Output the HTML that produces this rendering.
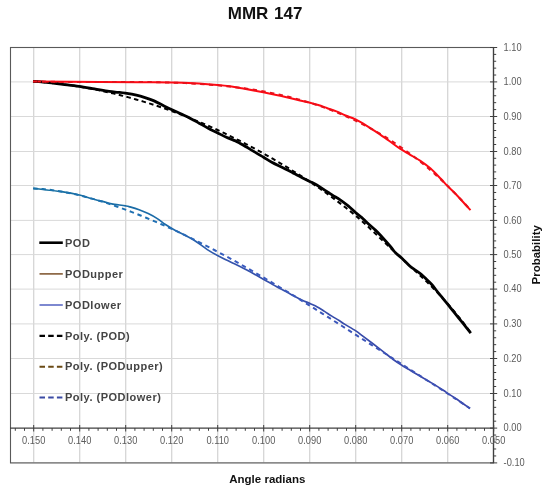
<!DOCTYPE html>
<html><head><meta charset="utf-8">
<style>
html,body{margin:0;padding:0;background:#fff;}
body{width:550px;height:490px;overflow:hidden;position:relative;font-family:"Liberation Sans",sans-serif;}
svg{position:absolute;left:0;top:0;will-change:transform;}
</style></head><body>
<svg width="550" height="490" viewBox="0 0 550 490" font-family="Liberation Sans, sans-serif">
<defs>
<linearGradient id="gb" gradientUnits="userSpaceOnUse" x1="33" y1="0" x2="470" y2="0">
<stop offset="0" stop-color="#15709f"/><stop offset="0.3" stop-color="#1b6aa8"/><stop offset="0.45" stop-color="#3553ac"/><stop offset="1" stop-color="#3a44a8"/>
</linearGradient>
<linearGradient id="gbd" gradientUnits="userSpaceOnUse" x1="33" y1="0" x2="470" y2="0">
<stop offset="0" stop-color="#1a72aa"/><stop offset="0.3" stop-color="#1f6fb4"/><stop offset="0.45" stop-color="#3a5cc0"/><stop offset="1" stop-color="#3d50b4"/>
</linearGradient>
</defs>
<g stroke="#d9d9d9" stroke-width="1">
<line x1="33.70" y1="47" x2="33.70" y2="462.6" stroke-width="1.3" stroke="#d6d6d6"/><line x1="79.70" y1="47" x2="79.70" y2="462.6" stroke-width="1.3" stroke="#d6d6d6"/><line x1="125.70" y1="47" x2="125.70" y2="462.6" stroke-width="1.3" stroke="#d6d6d6"/><line x1="171.70" y1="47" x2="171.70" y2="462.6" stroke-width="1.3" stroke="#d6d6d6"/><line x1="217.70" y1="47" x2="217.70" y2="462.6" stroke-width="1.3" stroke="#d6d6d6"/><line x1="263.70" y1="47" x2="263.70" y2="462.6" stroke-width="1.3" stroke="#d6d6d6"/><line x1="309.70" y1="47" x2="309.70" y2="462.6" stroke-width="1.3" stroke="#d6d6d6"/><line x1="355.70" y1="47" x2="355.70" y2="462.6" stroke-width="1.3" stroke="#d6d6d6"/><line x1="401.70" y1="47" x2="401.70" y2="462.6" stroke-width="1.3" stroke="#d6d6d6"/><line x1="447.70" y1="47" x2="447.70" y2="462.6" stroke-width="1.3" stroke="#d6d6d6"/><line x1="10" y1="462.90" x2="494" y2="462.90"/><line x1="10" y1="393.50" x2="494" y2="393.50"/><line x1="10" y1="358.50" x2="494" y2="358.50"/><line x1="10" y1="323.90" x2="494" y2="323.90"/><line x1="10" y1="289.10" x2="494" y2="289.10"/><line x1="10" y1="254.60" x2="494" y2="254.60"/><line x1="10" y1="220.40" x2="494" y2="220.40"/><line x1="10" y1="185.50" x2="494" y2="185.50"/><line x1="10" y1="151.50" x2="494" y2="151.50"/><line x1="10" y1="116.50" x2="494" y2="116.50"/><line x1="10" y1="81.90" x2="494" y2="81.90"/>
</g>
<rect x="10.5" y="47.5" width="483" height="415.4" fill="none" stroke="#595959" stroke-width="1.1"/>
<g stroke="#404040" stroke-width="1">
<line x1="10" y1="428.1" x2="494" y2="428.1" stroke-width="1.3"/>
<line x1="493.5" y1="47" x2="493.5" y2="463" stroke-width="1.3"/>
<line x1="33.70" y1="425" x2="33.70" y2="431.5"/><line x1="79.70" y1="425" x2="79.70" y2="431.5"/><line x1="125.70" y1="425" x2="125.70" y2="431.5"/><line x1="171.70" y1="425" x2="171.70" y2="431.5"/><line x1="217.70" y1="425" x2="217.70" y2="431.5"/><line x1="263.70" y1="425" x2="263.70" y2="431.5"/><line x1="309.70" y1="425" x2="309.70" y2="431.5"/><line x1="355.70" y1="425" x2="355.70" y2="431.5"/><line x1="401.70" y1="425" x2="401.70" y2="431.5"/><line x1="447.70" y1="425" x2="447.70" y2="431.5"/><line x1="493.70" y1="425" x2="493.70" y2="431.5"/><line x1="15.30" y1="428" x2="15.30" y2="430.8"/><line x1="24.50" y1="428" x2="24.50" y2="430.8"/><line x1="42.90" y1="428" x2="42.90" y2="430.8"/><line x1="52.10" y1="428" x2="52.10" y2="430.8"/><line x1="61.30" y1="428" x2="61.30" y2="430.8"/><line x1="70.50" y1="428" x2="70.50" y2="430.8"/><line x1="88.90" y1="428" x2="88.90" y2="430.8"/><line x1="98.10" y1="428" x2="98.10" y2="430.8"/><line x1="107.30" y1="428" x2="107.30" y2="430.8"/><line x1="116.50" y1="428" x2="116.50" y2="430.8"/><line x1="134.90" y1="428" x2="134.90" y2="430.8"/><line x1="144.10" y1="428" x2="144.10" y2="430.8"/><line x1="153.30" y1="428" x2="153.30" y2="430.8"/><line x1="162.50" y1="428" x2="162.50" y2="430.8"/><line x1="180.90" y1="428" x2="180.90" y2="430.8"/><line x1="190.10" y1="428" x2="190.10" y2="430.8"/><line x1="199.30" y1="428" x2="199.30" y2="430.8"/><line x1="208.50" y1="428" x2="208.50" y2="430.8"/><line x1="226.90" y1="428" x2="226.90" y2="430.8"/><line x1="236.10" y1="428" x2="236.10" y2="430.8"/><line x1="245.30" y1="428" x2="245.30" y2="430.8"/><line x1="254.50" y1="428" x2="254.50" y2="430.8"/><line x1="272.90" y1="428" x2="272.90" y2="430.8"/><line x1="282.10" y1="428" x2="282.10" y2="430.8"/><line x1="291.30" y1="428" x2="291.30" y2="430.8"/><line x1="300.50" y1="428" x2="300.50" y2="430.8"/><line x1="318.90" y1="428" x2="318.90" y2="430.8"/><line x1="328.10" y1="428" x2="328.10" y2="430.8"/><line x1="337.30" y1="428" x2="337.30" y2="430.8"/><line x1="346.50" y1="428" x2="346.50" y2="430.8"/><line x1="364.90" y1="428" x2="364.90" y2="430.8"/><line x1="374.10" y1="428" x2="374.10" y2="430.8"/><line x1="383.30" y1="428" x2="383.30" y2="430.8"/><line x1="392.50" y1="428" x2="392.50" y2="430.8"/><line x1="410.90" y1="428" x2="410.90" y2="430.8"/><line x1="420.10" y1="428" x2="420.10" y2="430.8"/><line x1="429.30" y1="428" x2="429.30" y2="430.8"/><line x1="438.50" y1="428" x2="438.50" y2="430.8"/><line x1="456.90" y1="428" x2="456.90" y2="430.8"/><line x1="466.10" y1="428" x2="466.10" y2="430.8"/><line x1="475.30" y1="428" x2="475.30" y2="430.8"/><line x1="484.50" y1="428" x2="484.50" y2="430.8"/><line x1="490" y1="462.90" x2="497.2" y2="462.90"/><line x1="490" y1="428.10" x2="497.2" y2="428.10"/><line x1="490" y1="393.50" x2="497.2" y2="393.50"/><line x1="490" y1="358.50" x2="497.2" y2="358.50"/><line x1="490" y1="323.90" x2="497.2" y2="323.90"/><line x1="490" y1="289.10" x2="497.2" y2="289.10"/><line x1="490" y1="254.60" x2="497.2" y2="254.60"/><line x1="490" y1="220.40" x2="497.2" y2="220.40"/><line x1="490" y1="185.50" x2="497.2" y2="185.50"/><line x1="490" y1="151.50" x2="497.2" y2="151.50"/><line x1="490" y1="116.50" x2="497.2" y2="116.50"/><line x1="490" y1="81.90" x2="497.2" y2="81.90"/><line x1="490" y1="47.50" x2="497.2" y2="47.50"/><line x1="493.5" y1="455.94" x2="496.2" y2="455.94"/><line x1="493.5" y1="448.98" x2="496.2" y2="448.98"/><line x1="493.5" y1="442.02" x2="496.2" y2="442.02"/><line x1="493.5" y1="435.06" x2="496.2" y2="435.06"/><line x1="493.5" y1="421.18" x2="496.2" y2="421.18"/><line x1="493.5" y1="414.26" x2="496.2" y2="414.26"/><line x1="493.5" y1="407.34" x2="496.2" y2="407.34"/><line x1="493.5" y1="400.42" x2="496.2" y2="400.42"/><line x1="493.5" y1="386.50" x2="496.2" y2="386.50"/><line x1="493.5" y1="379.50" x2="496.2" y2="379.50"/><line x1="493.5" y1="372.50" x2="496.2" y2="372.50"/><line x1="493.5" y1="365.50" x2="496.2" y2="365.50"/><line x1="493.5" y1="351.58" x2="496.2" y2="351.58"/><line x1="493.5" y1="344.66" x2="496.2" y2="344.66"/><line x1="493.5" y1="337.74" x2="496.2" y2="337.74"/><line x1="493.5" y1="330.82" x2="496.2" y2="330.82"/><line x1="493.5" y1="316.94" x2="496.2" y2="316.94"/><line x1="493.5" y1="309.98" x2="496.2" y2="309.98"/><line x1="493.5" y1="303.02" x2="496.2" y2="303.02"/><line x1="493.5" y1="296.06" x2="496.2" y2="296.06"/><line x1="493.5" y1="282.20" x2="496.2" y2="282.20"/><line x1="493.5" y1="275.30" x2="496.2" y2="275.30"/><line x1="493.5" y1="268.40" x2="496.2" y2="268.40"/><line x1="493.5" y1="261.50" x2="496.2" y2="261.50"/><line x1="493.5" y1="247.76" x2="496.2" y2="247.76"/><line x1="493.5" y1="240.92" x2="496.2" y2="240.92"/><line x1="493.5" y1="234.08" x2="496.2" y2="234.08"/><line x1="493.5" y1="227.24" x2="496.2" y2="227.24"/><line x1="493.5" y1="213.42" x2="496.2" y2="213.42"/><line x1="493.5" y1="206.44" x2="496.2" y2="206.44"/><line x1="493.5" y1="199.46" x2="496.2" y2="199.46"/><line x1="493.5" y1="192.48" x2="496.2" y2="192.48"/><line x1="493.5" y1="178.70" x2="496.2" y2="178.70"/><line x1="493.5" y1="171.90" x2="496.2" y2="171.90"/><line x1="493.5" y1="165.10" x2="496.2" y2="165.10"/><line x1="493.5" y1="158.30" x2="496.2" y2="158.30"/><line x1="493.5" y1="144.50" x2="496.2" y2="144.50"/><line x1="493.5" y1="137.50" x2="496.2" y2="137.50"/><line x1="493.5" y1="130.50" x2="496.2" y2="130.50"/><line x1="493.5" y1="123.50" x2="496.2" y2="123.50"/><line x1="493.5" y1="109.58" x2="496.2" y2="109.58"/><line x1="493.5" y1="102.66" x2="496.2" y2="102.66"/><line x1="493.5" y1="95.74" x2="496.2" y2="95.74"/><line x1="493.5" y1="88.82" x2="496.2" y2="88.82"/><line x1="493.5" y1="75.02" x2="496.2" y2="75.02"/><line x1="493.5" y1="68.14" x2="496.2" y2="68.14"/><line x1="493.5" y1="61.26" x2="496.2" y2="61.26"/><line x1="493.5" y1="54.38" x2="496.2" y2="54.38"/>
</g>
<g font-size="10px" fill="#5c5c5c">
<text transform="translate(33.70,444) scale(0.93,1)" text-anchor="middle">0.150</text><text transform="translate(79.70,444) scale(0.93,1)" text-anchor="middle">0.140</text><text transform="translate(125.70,444) scale(0.93,1)" text-anchor="middle">0.130</text><text transform="translate(171.70,444) scale(0.93,1)" text-anchor="middle">0.120</text><text transform="translate(217.70,444) scale(0.93,1)" text-anchor="middle">0.110</text><text transform="translate(263.70,444) scale(0.93,1)" text-anchor="middle">0.100</text><text transform="translate(309.70,444) scale(0.93,1)" text-anchor="middle">0.090</text><text transform="translate(355.70,444) scale(0.93,1)" text-anchor="middle">0.080</text><text transform="translate(401.70,444) scale(0.93,1)" text-anchor="middle">0.070</text><text transform="translate(447.70,444) scale(0.93,1)" text-anchor="middle">0.060</text><text transform="translate(493.70,444) scale(0.93,1)" text-anchor="middle">0.050</text>
<text transform="translate(503.6,466.05) scale(0.93,1)">-0.10</text><text transform="translate(503.6,431.25) scale(0.93,1)">0.00</text><text transform="translate(503.6,396.65) scale(0.93,1)">0.10</text><text transform="translate(503.6,361.65) scale(0.93,1)">0.20</text><text transform="translate(503.6,327.05) scale(0.93,1)">0.30</text><text transform="translate(503.6,292.25) scale(0.93,1)">0.40</text><text transform="translate(503.6,257.75) scale(0.93,1)">0.50</text><text transform="translate(503.6,223.55) scale(0.93,1)">0.60</text><text transform="translate(503.6,188.65) scale(0.93,1)">0.70</text><text transform="translate(503.6,154.65) scale(0.93,1)">0.80</text><text transform="translate(503.6,119.65) scale(0.93,1)">0.90</text><text transform="translate(503.6,85.05) scale(0.93,1)">1.00</text><text transform="translate(503.6,50.65) scale(0.93,1)">1.10</text>
</g>
<text x="265.1" y="18.9" font-size="17px" font-weight="bold" fill="#111" text-anchor="middle" word-spacing="1px">MMR 147</text>
<text x="267.3" y="483.4" font-size="11.5px" font-weight="bold" fill="#111" text-anchor="middle">Angle radians</text>
<text transform="translate(539.7,254.8) rotate(-90)" font-size="11.5px" font-weight="bold" fill="#111" text-anchor="middle">Probability</text>
<!-- curves -->
<path d="M33.00,81.30 C35.23,81.48 41.45,81.90 46.40,82.40 C51.35,82.90 57.27,83.65 62.70,84.30 C68.13,84.95 73.70,85.53 79.00,86.30 C84.30,87.07 89.48,88.05 94.50,88.90 C99.52,89.75 105.15,90.83 109.10,91.40 C113.05,91.97 115.50,92.00 118.20,92.30 C120.90,92.60 122.27,92.72 125.30,93.20 C128.33,93.68 133.12,94.47 136.40,95.20 C139.68,95.93 142.05,96.65 145.00,97.60 C147.95,98.55 151.07,99.58 154.10,100.90 C157.13,102.22 160.32,104.07 163.20,105.50 C166.08,106.93 168.37,108.07 171.40,109.50 C174.43,110.93 178.22,112.62 181.40,114.10 C184.58,115.58 187.55,116.88 190.50,118.40 C193.45,119.92 196.15,121.57 199.10,123.20 C202.05,124.83 205.17,126.62 208.20,128.20 C211.23,129.78 214.27,131.18 217.30,132.70 C220.33,134.22 223.37,135.93 226.40,137.30 C229.43,138.67 233.23,139.88 235.50,140.90 C237.77,141.92 237.73,142.12 240.00,143.40 C242.27,144.68 246.07,146.82 249.10,148.60 C252.13,150.38 255.78,152.65 258.20,154.10 C260.62,155.55 261.33,155.93 263.60,157.30 C265.87,158.67 268.92,160.72 271.80,162.30 C274.68,163.88 277.87,165.32 280.90,166.80 C283.93,168.28 287.80,170.07 290.00,171.20 C292.20,172.33 291.90,172.43 294.10,173.60 C296.30,174.77 300.60,176.90 303.20,178.20 C305.80,179.50 307.43,180.27 309.70,181.40 C311.97,182.53 314.10,183.42 316.80,185.00 C319.50,186.58 323.70,189.47 325.90,190.90 C328.10,192.33 328.48,192.62 330.00,193.60 C331.52,194.58 333.48,195.88 335.00,196.80 C336.52,197.72 336.90,197.58 339.10,199.10 C341.30,200.62 345.47,203.67 348.20,205.90 C350.93,208.13 353.23,210.55 355.50,212.50 C357.77,214.45 359.85,215.88 361.80,217.60 C363.75,219.32 365.08,220.85 367.20,222.80 C369.32,224.75 372.33,227.27 374.50,229.30 C376.67,231.33 377.55,232.13 380.20,235.00 C382.85,237.87 387.85,243.55 390.40,246.50 C392.95,249.45 393.58,250.73 395.50,252.70 C397.42,254.67 399.48,256.05 401.90,258.30 C404.32,260.55 407.70,264.20 410.00,266.20 C412.30,268.20 413.83,268.97 415.70,270.30 C417.57,271.63 419.27,272.57 421.20,274.20 C423.13,275.83 425.47,278.30 427.30,280.10 C429.13,281.90 430.67,283.27 432.20,285.00 C433.73,286.73 435.10,288.73 436.50,290.50 C437.90,292.27 438.75,293.33 440.60,295.60 C442.45,297.87 445.40,301.38 447.60,304.10 C449.80,306.82 451.25,308.72 453.80,311.90 C456.35,315.08 460.07,319.65 462.90,323.20 C465.73,326.75 469.48,331.53 470.80,333.20" fill="none" stroke="#000" stroke-width="2.8" stroke-linejoin="round"/>
<path d="M33.00,81.50 C44.17,81.57 82.17,81.78 100.00,81.90 C117.83,82.02 131.67,82.15 140.00,82.20 C148.33,82.25 144.70,82.17 150.00,82.20 C155.30,82.23 164.53,82.23 171.80,82.40 C179.07,82.57 185.97,82.78 193.60,83.20 C201.23,83.62 211.53,84.40 217.60,84.90 C223.67,85.40 225.97,85.65 230.00,86.20 C234.03,86.75 236.25,87.18 241.80,88.20 C247.35,89.22 256.02,90.85 263.30,92.30 C270.58,93.75 279.38,95.53 285.50,96.90 C291.62,98.27 295.92,99.53 300.00,100.50 C304.08,101.47 306.97,101.95 310.00,102.70 C313.03,103.45 315.32,104.08 318.20,105.00 C321.08,105.92 324.27,107.13 327.30,108.20 C330.33,109.27 333.37,110.18 336.40,111.40 C339.43,112.62 342.30,114.18 345.50,115.50 C348.70,116.82 352.05,117.58 355.60,119.30 C359.15,121.02 363.12,123.53 366.80,125.80 C370.48,128.07 374.07,130.45 377.70,132.90 C381.33,135.35 384.88,137.87 388.60,140.50 C392.32,143.13 396.40,146.32 400.00,148.70 C403.60,151.08 406.80,152.77 410.20,154.80 C413.60,156.83 417.00,158.60 420.40,160.90 C423.80,163.20 427.20,165.62 430.60,168.60 C434.00,171.58 438.00,175.92 440.80,178.80 C443.60,181.68 444.68,183.12 447.40,185.90 C450.12,188.68 454.12,192.40 457.10,195.50 C460.08,198.60 463.07,202.05 465.30,204.50 C467.53,206.95 469.63,209.25 470.50,210.20" fill="none" stroke="#ff0a14" stroke-width="2" stroke-linejoin="round"/>
<path d="M33.20,188.30 C37.90,188.87 53.68,190.58 61.40,191.70 C69.12,192.82 74.73,193.92 79.50,195.00 C84.27,196.08 85.45,196.95 90.00,198.20 C94.55,199.45 103.17,201.57 106.80,202.50 C110.43,203.43 108.67,203.23 111.80,203.80 C114.93,204.37 122.57,205.38 125.60,205.90 C128.63,206.42 127.75,206.25 130.00,206.90 C132.25,207.55 136.07,208.68 139.10,209.80 C142.13,210.92 145.17,212.13 148.20,213.60 C151.23,215.07 154.50,216.82 157.30,218.60 C160.10,220.38 162.63,222.70 165.00,224.30 C167.37,225.90 169.08,226.83 171.50,228.20 C173.92,229.57 176.95,231.17 179.50,232.50 C182.05,233.83 184.37,234.92 186.80,236.20 C189.23,237.48 191.82,238.80 194.10,240.20 C196.38,241.60 198.30,243.03 200.50,244.60 C202.70,246.17 204.47,247.78 207.30,249.60 C210.13,251.42 213.87,253.55 217.50,255.50 C221.13,257.45 225.35,259.48 229.10,261.30 C232.85,263.12 236.97,264.92 240.00,266.40 C243.03,267.88 244.88,268.90 247.30,270.20 C249.72,271.50 251.83,272.68 254.50,274.20 C257.17,275.72 260.27,277.60 263.30,279.30 C266.33,281.00 269.92,282.87 272.70,284.40 C275.48,285.93 277.57,287.18 280.00,288.50 C282.43,289.82 284.88,291.00 287.30,292.30 C289.72,293.60 292.08,295.03 294.50,296.30 C296.92,297.57 299.22,298.68 301.80,299.90 C304.38,301.12 307.42,302.42 310.00,303.60 C312.58,304.78 314.88,305.70 317.30,307.00 C319.72,308.30 322.08,309.88 324.50,311.40 C326.92,312.92 329.37,314.58 331.80,316.10 C334.23,317.62 336.90,319.12 339.10,320.50 C341.30,321.88 342.22,322.67 345.00,324.40 C347.78,326.13 352.77,328.90 355.80,330.90 C358.83,332.90 360.50,334.38 363.20,336.40 C365.90,338.42 368.67,340.47 372.00,343.00 C375.33,345.53 379.48,348.72 383.20,351.60 C386.92,354.48 391.20,358.02 394.30,360.30 C397.40,362.58 399.33,363.75 401.80,365.30 C404.27,366.85 406.67,368.15 409.10,369.60 C411.53,371.05 414.20,372.70 416.40,374.00 C418.60,375.30 420.12,376.12 422.30,377.40 C424.48,378.68 427.08,380.25 429.50,381.70 C431.92,383.15 434.37,384.58 436.80,386.10 C439.23,387.62 442.28,389.58 444.10,390.80 C445.92,392.02 445.50,391.95 447.70,393.40 C449.90,394.85 453.58,396.98 457.30,399.50 C461.02,402.02 467.88,407.00 470.00,408.50" fill="none" stroke="url(#gb)" stroke-width="1.7" stroke-linejoin="round"/>
<path d="M33.00,81.47 L36.68,81.71 L40.36,81.98 L44.04,82.27 L47.72,82.60 L51.40,82.96 L55.08,83.35 L58.76,83.77 L62.45,84.21 L66.13,84.69 L69.81,85.20 L73.49,85.74 L77.17,86.31 L80.85,86.90 L84.53,87.53 L88.21,88.19 L91.89,88.88 L95.57,89.59 L99.25,90.34 L102.93,91.12 L106.61,91.92 L110.29,92.76 L113.97,93.62 L117.66,94.52 L121.34,95.44 L125.02,96.40 L128.70,97.38 L132.38,98.39 L136.06,99.44 L139.74,100.51 L143.42,101.61 L147.10,102.74 L150.78,103.90 L154.46,105.09 L158.14,106.31 L161.82,107.56 L165.50,108.83 L169.18,110.14 L172.87,111.48 L176.55,112.84 L180.23,114.23 L183.91,115.66 L187.59,117.11 L191.27,118.59 L194.95,120.10 L198.63,121.64 L202.31,123.21 L205.99,124.80 L209.67,126.43 L213.35,128.09 L217.03,129.77 L220.71,131.48 L224.39,133.22 L228.08,134.99 L231.76,136.79 L235.44,138.62 L239.12,140.48 L242.80,142.36 L246.48,144.27 L250.16,146.22 L253.84,148.19 L257.52,150.19 L261.20,152.21 L264.88,154.27 L268.56,156.35 L272.24,158.47 L275.92,160.61 L279.61,162.78 L283.29,164.98 L286.97,167.21 L290.65,169.47 L294.33,171.76 L298.01,174.08 L301.69,176.44 L305.37,178.83 L309.05,181.26 L312.73,183.73 L316.41,186.23 L320.09,188.76 L323.77,191.34 L327.45,193.96 L331.13,196.62 L334.82,199.32 L338.50,202.08 L342.18,204.89 L345.86,207.76 L349.54,210.71 L353.22,213.72 L356.90,216.81 L360.58,219.98 L364.26,223.24 L367.94,226.60 L371.62,230.03 L375.30,233.53 L378.98,237.06 L382.66,240.61 L386.34,244.14 L390.03,247.64 L393.71,251.10 L397.39,254.51 L401.07,257.89 L404.75,261.26 L408.43,264.62 L412.11,268.00 L415.79,271.40 L419.47,274.83 L423.15,278.31 L426.83,281.86 L430.51,285.48 L434.19,289.19 L437.87,293.00 L441.55,296.93 L445.24,300.97 L448.92,305.13 L452.60,309.43 L456.28,313.87 L459.96,318.45 L463.64,323.19 L467.32,328.09 L471.00,333.16" fill="none" stroke="#000" stroke-width="2" stroke-dasharray="4.5 3.4"/>
<path d="M33.00,81.51 L37.92,81.62 L42.83,81.70 L47.75,81.78 L52.66,81.83 L57.58,81.88 L62.49,81.91 L67.41,81.93 L72.33,81.94 L77.24,81.95 L82.16,81.95 L87.07,81.94 L91.99,81.93 L96.90,81.92 L101.82,81.91 L106.74,81.90 L111.65,81.89 L116.57,81.89 L121.48,81.89 L126.40,81.90 L131.31,81.91 L136.23,81.94 L141.15,81.98 L146.06,82.03 L150.98,82.10 L155.89,82.18 L160.81,82.28 L165.72,82.40 L170.64,82.54 L175.56,82.71 L180.47,82.90 L185.39,83.11 L190.30,83.35 L195.22,83.63 L200.13,83.93 L205.05,84.27 L209.97,84.64 L214.88,85.04 L219.80,85.49 L224.71,85.97 L229.63,86.50 L234.54,87.07 L239.46,87.69 L244.38,88.35 L249.29,89.07 L254.21,89.83 L259.12,90.65 L264.04,91.53 L268.96,92.46 L273.87,93.45 L278.79,94.50 L283.70,95.62 L288.62,96.80 L293.53,98.05 L298.45,99.38 L303.37,100.77 L308.28,102.24 L313.20,103.79 L318.11,105.41 L323.03,107.12 L327.94,108.92 L332.86,110.80 L337.78,112.76 L342.69,114.83 L347.61,116.98 L352.52,119.23 L357.44,121.59 L362.35,124.04 L367.27,126.60 L372.19,129.27 L377.10,132.05 L382.02,134.94 L386.93,137.95 L391.85,141.08 L396.76,144.34 L401.68,147.71 L406.60,151.22 L411.51,154.86 L416.43,158.63 L421.34,162.54 L426.26,166.59 L431.17,170.79 L436.09,175.14 L441.01,179.64 L445.92,184.29 L450.84,189.10 L455.75,194.08 L460.67,199.22 L465.58,204.53 L470.50,210.01" fill="none" stroke="#e8101a" stroke-width="2" stroke-dasharray="4.4 4.4"/>
<path d="M33.20,188.48 L38.11,188.71 L43.02,189.07 L47.92,189.57 L52.83,190.18 L57.74,190.90 L62.65,191.73 L67.56,192.67 L72.46,193.69 L77.37,194.81 L82.28,196.01 L87.19,197.29 L92.09,198.65 L97.00,200.08 L101.91,201.58 L106.82,203.14 L111.73,204.77 L116.63,206.46 L121.54,208.20 L126.45,210.00 L131.36,211.86 L136.27,213.77 L141.17,215.72 L146.08,217.73 L150.99,219.78 L155.90,221.88 L160.80,224.02 L165.71,226.21 L170.62,228.43 L175.53,230.70 L180.44,233.01 L185.34,235.36 L190.25,237.75 L195.16,240.18 L200.07,242.65 L204.98,245.15 L209.88,247.69 L214.79,250.26 L219.70,252.86 L224.61,255.50 L229.51,258.18 L234.42,260.88 L239.33,263.62 L244.24,266.38 L249.15,269.18 L254.05,272.00 L258.96,274.85 L263.87,277.72 L268.78,280.62 L273.69,283.55 L278.59,286.49 L283.50,289.46 L288.41,292.45 L293.32,295.46 L298.22,298.48 L303.13,301.52 L308.04,304.58 L312.95,307.65 L317.86,310.73 L322.76,313.82 L327.67,316.92 L332.58,320.03 L337.49,323.15 L342.40,326.27 L347.30,329.40 L352.21,332.54 L357.12,335.67 L362.03,338.81 L366.93,341.95 L371.84,345.08 L376.75,348.22 L381.66,351.36 L386.57,354.49 L391.47,357.62 L396.38,360.76 L401.29,363.89 L406.20,367.02 L411.11,370.15 L416.01,373.28 L420.92,376.41 L425.83,379.55 L430.74,382.69 L435.64,385.84 L440.55,389.00 L445.46,392.17 L450.37,395.36 L455.28,398.57 L460.18,401.81 L465.09,405.07 L470.00,408.36" fill="none" stroke="url(#gbd)" stroke-width="2" stroke-dasharray="4.5 3.8"/>
<!-- legend -->
<g stroke-width="2">
<line x1="39.3" y1="242.7" x2="62.8" y2="242.7" stroke="#000" stroke-width="2.6"/>
<line x1="39.5" y1="273.9" x2="62.8" y2="273.9" stroke="#7a5028" stroke-width="1.5"/>
<line x1="39.5" y1="305" x2="62.8" y2="305" stroke="#5260c0" stroke-width="1.5"/>
<line x1="39.5" y1="335.9" x2="63.5" y2="335.9" stroke="#000" stroke-width="2.1" stroke-dasharray="5.5 3.2"/>
<line x1="39.5" y1="366.8" x2="63.5" y2="366.8" stroke="#6a4a14" stroke-width="2" stroke-dasharray="5.5 3.2"/>
<line x1="39.5" y1="397.5" x2="63.5" y2="397.5" stroke="#3a4aa4" stroke-width="2" stroke-dasharray="5.5 3.2"/>
</g>
<g font-size="11px" font-weight="bold" fill="#444" letter-spacing="0.5px">
<text x="65" y="246.8">POD</text>
<text x="65" y="277.6">PODupper</text>
<text x="65" y="308.6">PODlower</text>
<text x="65" y="339.5">Poly. (POD)</text>
<text x="65" y="370.3">Poly. (PODupper)</text>
<text x="65" y="401.1">Poly. (PODlower)</text>
</g>
</svg>
</body></html>
